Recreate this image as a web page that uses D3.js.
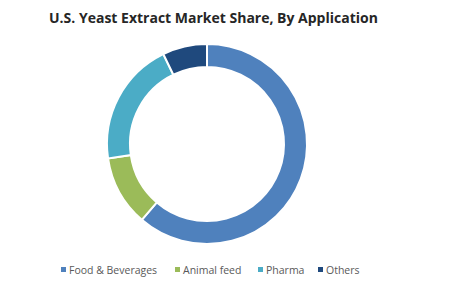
<!DOCTYPE html>
<html>
<head>
<meta charset="utf-8">
<script src="https://d3js.org/d3.v7.min.js"></script>
<style>
  body { margin: 0; background: #fff; }
</style>
</head>
<body>
<div id="my_dataviz"></div>
<script>
// data
var categories = ["Food & Beverages", "Animal feed", "Pharma", "Others"];
var shares = [61.3, 11.4, 20.1, 7.2];
var colors = ["#4F81BD", "#9BBB59", "#4BACC6", "#1F497D"];

var width = 451, height = 303;
var cx = 207, cy = 144, outerR = 100, innerR = 77;

var svg = d3.select("#my_dataviz")
  .append("svg")
    .attr("width", width)
    .attr("height", height);

// title
svg.append("text")
    .attr("x", 49)
    .attr("y", 23)
    .style("font-family", "'Open Sans', sans-serif")
    .style("font-weight", "bold")
    .style("font-size", "14px")
    .style("fill", "#262626")
    .text("U.S. Yeast Extract Market Share, By Application");

var color = d3.scaleOrdinal().domain(categories).range(colors);

var pie = d3.pie().sort(null).value(function(d) { return d.value; });
var data = categories.map(function(c, i) { return {key: c, value: shares[i]}; });

var arc = d3.arc().innerRadius(innerR).outerRadius(outerR);

svg.append("g")
    .attr("transform", "translate(" + cx + "," + cy + ")")
  .selectAll("path")
  .data(pie(data))
  .enter()
  .append("path")
    .attr("d", arc)
    .style("fill", function(d) { return color(d.data.key); })
    .style("stroke", "#fff")
    .style("stroke-width", 2);

// legend
var legendX = [61, 175, 258, 318];
var legend = svg.append("g")
  .selectAll("g")
  .data(categories)
  .enter()
  .append("g")
    .attr("transform", function(d, i) { return "translate(" + legendX[i] + ",270)"; });

legend.append("rect")
    .attr("x", 0).attr("y", -3)
    .attr("width", 5).attr("height", 5)
    .style("fill", function(d) { return color(d); });

legend.append("text")
    .attr("x", 8)
    .attr("y", 4)
    .style("font-family", "'Open Sans', sans-serif")
    .style("font-size", "10.5px")
    .style("fill", "#595959")
    .text(function(d) { return d; });
</script>
</body>
</html>
